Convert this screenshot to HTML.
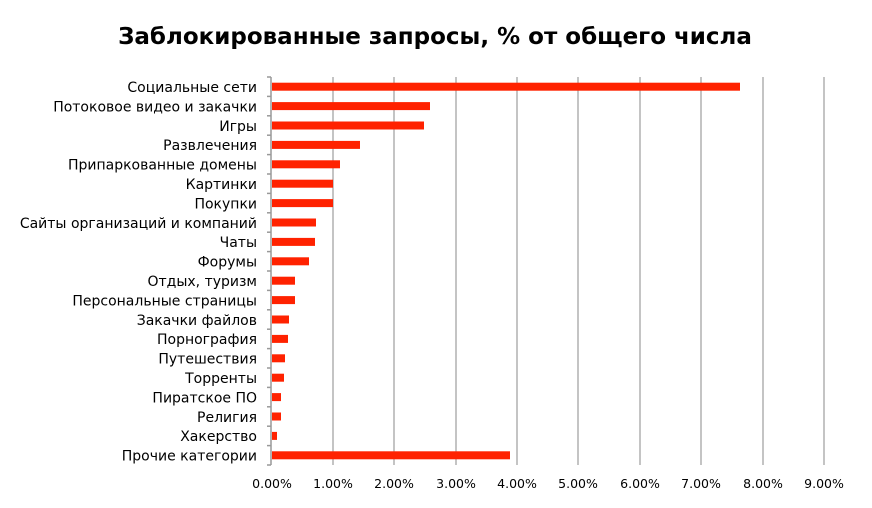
<!DOCTYPE html>
<html><head><meta charset="utf-8"><style>
body{margin:0;background:#fff;}
svg text{font-family:"DejaVu Sans","Liberation Sans",sans-serif;fill:#000;}
</style></head><body>
<svg width="872" height="503" viewBox="0 0 872 503" xmlns="http://www.w3.org/2000/svg">
<text x="435" y="44" text-anchor="middle" font-size="23" font-weight="bold">Заблокированные запросы, % от общего числа</text>
<g stroke="#b0b0b0" stroke-width="1.5">
<line x1="333" y1="77" x2="333" y2="465"/><line x1="394" y1="77" x2="394" y2="465"/>
<line x1="456" y1="77" x2="456" y2="465"/><line x1="517" y1="77" x2="517" y2="465"/>
<line x1="578" y1="77" x2="578" y2="465"/><line x1="640" y1="77" x2="640" y2="465"/>
<line x1="701" y1="77" x2="701" y2="465"/><line x1="763" y1="77" x2="763" y2="465"/>
<line x1="824" y1="77" x2="824" y2="465"/>
</g>
<g stroke="#999" stroke-width="1.5">
<line x1="271" y1="77" x2="271" y2="465"/>
<line x1="267" y1="77" x2="271" y2="77"/><line x1="267" y1="96.4" x2="271" y2="96.4"/><line x1="267" y1="115.8" x2="271" y2="115.8"/><line x1="267" y1="135.2" x2="271" y2="135.2"/><line x1="267" y1="154.6" x2="271" y2="154.6"/><line x1="267" y1="174" x2="271" y2="174"/><line x1="267" y1="193.4" x2="271" y2="193.4"/><line x1="267" y1="212.8" x2="271" y2="212.8"/><line x1="267" y1="232.2" x2="271" y2="232.2"/><line x1="267" y1="251.6" x2="271" y2="251.6"/><line x1="267" y1="271" x2="271" y2="271"/><line x1="267" y1="290.4" x2="271" y2="290.4"/><line x1="267" y1="309.8" x2="271" y2="309.8"/><line x1="267" y1="329.2" x2="271" y2="329.2"/><line x1="267" y1="348.6" x2="271" y2="348.6"/><line x1="267" y1="368" x2="271" y2="368"/><line x1="267" y1="387.4" x2="271" y2="387.4"/><line x1="267" y1="406.8" x2="271" y2="406.8"/><line x1="267" y1="426.2" x2="271" y2="426.2"/><line x1="267" y1="445.6" x2="271" y2="445.6"/><line x1="267" y1="465" x2="271" y2="465"/>
</g>
<g fill="#ff2200">
<rect x="272" y="82.7" width="468" height="8"/>
<rect x="272" y="102.1" width="158" height="8"/>
<rect x="272" y="121.5" width="152" height="8"/>
<rect x="272" y="140.9" width="88" height="8"/>
<rect x="272" y="160.3" width="68" height="8"/>
<rect x="272" y="179.7" width="61" height="8"/>
<rect x="272" y="199.1" width="61" height="8"/>
<rect x="272" y="218.5" width="44" height="8"/>
<rect x="272" y="237.9" width="43" height="8"/>
<rect x="272" y="257.3" width="37" height="8"/>
<rect x="272" y="276.7" width="23" height="8"/>
<rect x="272" y="296.1" width="23" height="8"/>
<rect x="272" y="315.5" width="17" height="8"/>
<rect x="272" y="334.9" width="16" height="8"/>
<rect x="272" y="354.3" width="13" height="8"/>
<rect x="272" y="373.7" width="12" height="8"/>
<rect x="272" y="393.1" width="9" height="8"/>
<rect x="272" y="412.5" width="9" height="8"/>
<rect x="272" y="431.9" width="5" height="8"/>
<rect x="272" y="451.3" width="238" height="8"/>
</g>
<g font-size="14" text-anchor="end">
<text x="257" y="92">Социальные сети</text>
<text x="257" y="111.4">Потоковое видео и закачки</text>
<text x="257" y="130.8">Игры</text>
<text x="257" y="150.2">Развлечения</text>
<text x="257" y="169.6">Припаркованные домены</text>
<text x="257" y="189">Картинки</text>
<text x="257" y="208.4">Покупки</text>
<text x="257" y="227.8">Сайты организаций и компаний</text>
<text x="257" y="247.2">Чаты</text>
<text x="257" y="266.6">Форумы</text>
<text x="257" y="286">Отдых, туризм</text>
<text x="257" y="305.4">Персональные страницы</text>
<text x="257" y="324.8">Закачки файлов</text>
<text x="257" y="344.2">Порнография</text>
<text x="257" y="363.6">Путешествия</text>
<text x="257" y="383">Торренты</text>
<text x="257" y="402.4">Пиратское ПО</text>
<text x="257" y="421.8">Религия</text>
<text x="257" y="441.2">Хакерство</text>
<text x="257" y="460.6">Прочие категории</text>
</g>
<g font-size="12.5" text-anchor="middle">
<text x="272" y="488">0.00%</text><text x="333" y="488">1.00%</text><text x="394" y="488">2.00%</text>
<text x="456" y="488">3.00%</text><text x="517" y="488">4.00%</text><text x="578" y="488">5.00%</text>
<text x="640" y="488">6.00%</text><text x="701" y="488">7.00%</text><text x="763" y="488">8.00%</text>
<text x="824" y="488">9.00%</text>
</g>
</svg>
</body></html>
